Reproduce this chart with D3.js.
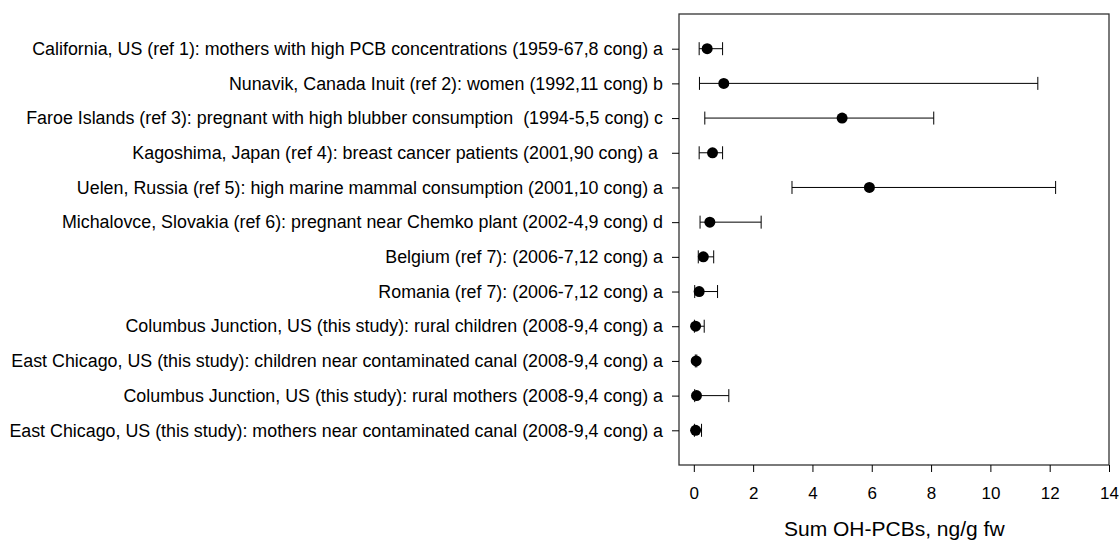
<!DOCTYPE html>
<html>
<head>
<meta charset="utf-8">
<script src="https://cdn.jsdelivr.net/npm/d3@7"></script>
<style>
  body { margin: 0; background: #fff; }
  text { font-family: Arial, "Liberation Sans", sans-serif; fill: #000; }
</style>
</head>
<body>
<svg id="chart" width="1119" height="540"></svg>
<script>
// row labels, top to bottom
const studies = [
  "California, US (ref 1): mothers with high PCB concentrations (1959-67,8 cong) a",
  "Nunavik, Canada Inuit (ref 2): women (1992,11 cong) b",
  "Faroe Islands (ref 3): pregnant with high blubber consumption  (1994-5,5 cong) c",
  "Kagoshima, Japan (ref 4): breast cancer patients (2001,90 cong) a ",
  "Uelen, Russia (ref 5): high marine mammal consumption (2001,10 cong) a",
  "Michalovce, Slovakia (ref 6): pregnant near Chemko plant (2002-4,9 cong) d",
  "Belgium (ref 7): (2006-7,12 cong) a",
  "Romania (ref 7): (2006-7,12 cong) a",
  "Columbus Junction, US (this study): rural children (2008-9,4 cong) a",
  "East Chicago, US (this study): children near contaminated canal (2008-9,4 cong) a",
  "Columbus Junction, US (this study): rural mothers (2008-9,4 cong) a",
  "East Chicago, US (this study): mothers near contaminated canal (2008-9,4 cong) a"
];
const centers = [0.45, 1.01, 5.0, 0.63, 5.92, 0.54, 0.32, 0.18, 0.06, 0.08, 0.09, 0.06];
const lows    = [0.18, 0.19, 0.37, 0.18, 3.31, 0.21, 0.15, 0.03, 0.02, 0.05, 0.03, 0.02];
const highs   = [0.97, 11.6, 8.09, 0.97, 12.2, 2.27, 0.67, 0.80, 0.35, 0.10, 1.18, 0.26];
const xTicks = [0, 2, 4, 6, 8, 10, 12, 14];

const svg = d3.select("#chart");
const m = { left: 679, top: 14, right: 10, bottom: 75 };
const W = 1119 - m.left - m.right;
const H = 540 - m.top - m.bottom;

const x = d3.scaleLinear().domain([-0.5, 14]).range([0, W]);
const y = d3.scaleLinear().domain([0, studies.length + 1]).range([0, H]);

const g = svg.append("g").attr("transform", `translate(${m.left},${m.top})`);

// frame
g.append("rect").attr("width", W).attr("height", H)
  .attr("fill", "none").attr("stroke", "#333").attr("stroke-width", 1.3);

// y ticks + labels
const yAxis = d3.axisLeft(y)
  .tickValues(d3.range(1, studies.length + 1))
  .tickSize(7).tickPadding(9)
  .tickFormat(i => studies[i - 1]);
g.append("g").call(yAxis)
  .attr("font-size", null).attr("font-family", null)
  .call(a => a.select(".domain").remove())
  .call(a => a.selectAll("line").attr("stroke", "#000"))
  .call(a => a.selectAll("text").style("font-size", "17.85px").attr("fill", "#000").style("white-space", "pre"));

// x axis
const xAxis = d3.axisBottom(x).tickValues(xTicks).tickSize(7).tickPadding(15);
g.append("g").attr("transform", `translate(0,${H})`).call(xAxis)
  .attr("font-size", null).attr("font-family", null)
  .call(a => a.select(".domain").remove())
  .call(a => a.selectAll("line").attr("stroke", "#000"))
  .call(a => a.selectAll("text").style("font-size", "17px").attr("fill", "#000"));

g.append("text")
  .attr("x", x(6.76)).attr("y", 522)
  .attr("text-anchor", "middle")
  .style("font-size", "21px")
  .text("Sum OH-PCBs, ng/g fw");

// error bars
const rows = g.append("g").selectAll("g").data(studies).join("g")
  .attr("transform", (d, i) => `translate(0,${y(i + 1)})`);

rows.append("line")
  .attr("x1", (d, i) => x(lows[i])).attr("x2", (d, i) => x(highs[i]))
  .attr("stroke", "#000").attr("stroke-width", 1);
rows.append("line")
  .attr("x1", (d, i) => x(lows[i])).attr("x2", (d, i) => x(lows[i]))
  .attr("y1", -6.5).attr("y2", 6.5).attr("stroke", "#000");
rows.append("line")
  .attr("x1", (d, i) => x(highs[i])).attr("x2", (d, i) => x(highs[i]))
  .attr("y1", -6.5).attr("y2", 6.5).attr("stroke", "#000");
rows.append("circle")
  .attr("cx", (d, i) => x(centers[i])).attr("r", 5.5).attr("fill", "#000");
</script>
</body>
</html>
